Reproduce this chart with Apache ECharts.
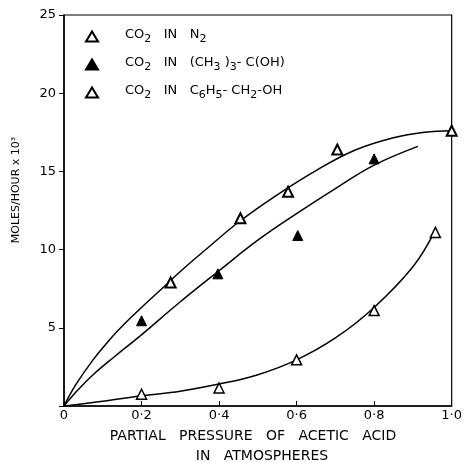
<!DOCTYPE html>
<html>
<head>
<meta charset="utf-8">
<script src="https://cdn.jsdelivr.net/npm/echarts@6/dist/echarts.min.js"></script>
<style>
  html, body { margin: 0; padding: 0; background: #fff; }
  #chart { width: 465px; height: 462px; }
</style>
</head>
<body>
<div id="chart"></div>
<script>
// measured points [partial pressure, moles/hour x 10^3]
var ptsN2 = [[0.275, 7.9], [0.455, 12.0], [0.578, 13.7], [0.705, 16.4], [1.0, 17.6]];
var ptsButanol = [[0.2, 5.45], [0.397, 8.45], [0.603, 10.9], [0.8, 15.8]];
var ptsBenzyl = [[0.2, 0.75], [0.4, 1.15], [0.6, 2.95], [0.8, 6.1], [0.958, 11.1]];

// hand-drawn curves through the points
var curveN2 = [[0, 0], [0.03, 1.35], [0.075, 2.95], [0.12, 4.3], [0.16, 5.35], [0.2, 6.3], [0.246, 7.35],
  [0.3, 8.6], [0.375, 10.2], [0.45, 11.75], [0.55, 13.5], [0.65, 15.05], [0.75, 16.35], [0.85, 17.15],
  [0.93, 17.5], [1.0, 17.6]];
var curveButanol = [[0, 0], [0.035, 1.0], [0.075, 2.0], [0.13, 3.15], [0.195, 4.45], [0.297, 6.6],
  [0.4, 8.65], [0.5, 10.6], [0.6, 12.3], [0.7, 13.9], [0.8, 15.4], [0.913, 16.6]];
var curveBenzyl = [[0, 0], [0.1, 0.3], [0.2, 0.65], [0.3, 0.95], [0.4, 1.4], [0.5, 2.0], [0.6, 2.95],
  [0.7, 4.35], [0.8, 6.3], [0.9, 8.9], [0.955, 11.1]];

var legendNames = ["CO2 IN N2", "CO2 IN (CH3)3-C(OH)", "CO2 IN C6H5-CH2-OH"];
// same labels with subscripts marked for rich text
var legendRich = {
  "CO2 IN N2": "{n|CO}{s|2}{n|   IN   N}{s|2}",
  "CO2 IN (CH3)3-C(OH)": "{n|CO}{s|2}{n|   IN   (CH}{s|3}{n| )}{s|3}{n|- C(OH)}",
  "CO2 IN C6H5-CH2-OH": "{n|CO}{s|2}{n|   IN   C}{s|6}{n|H}{s|5}{n|- CH}{s|2}{n|-OH}"
};

var font = "DejaVu Sans";
var chart = echarts.init(document.getElementById("chart"));

function curve(name, data) {
  return {
    name: name,
    type: "line",
    data: data,
    smooth: 0.4,
    showSymbol: false,
    silent: true,
    lineStyle: { color: "#000", width: 1.5 },
    z: 1
  };
}

chart.setOption({
  backgroundColor: "#fff",
  animation: false,
  grid: {
    left: 64, right: 10, top: 15, bottom: 56,
    show: true, borderColor: "#000", borderWidth: 1.2
  },
  legend: {
    data: legendNames,
    orient: "vertical",
    left: 80,
    top: 23,
    itemWidth: 12,
    itemHeight: 10,
    itemGap: 11,
    selectedMode: false,
    formatter: function (name) { return legendRich[name]; },
    textStyle: {
      color: "#000",
      padding: [0, 0, 0, 22],
      rich: {
        n: { fontFamily: font, fontSize: 13, color: "#000", padding: [0, 0, 4, 0] },
        s: { fontFamily: font, fontSize: 11, color: "#000", padding: [6, 0, 0, 0] }
      }
    }
  },
  xAxis: {
    type: "value",
    min: 0, max: 1, interval: 0.2,
    splitLine: { show: false },
    axisLine: { lineStyle: { color: "#000", width: 1.5 } },
    axisTick: { inside: true, length: 5, lineStyle: { color: "#000" } },
    axisLabel: {
      margin: 3, color: "#000", fontFamily: font, fontSize: 13,
      formatter: function (v) { return v === 0 ? "0" : v.toFixed(1).replace(".", "·"); }
    }
  },
  yAxis: {
    type: "value",
    min: 0, max: 25, interval: 5,
    splitLine: { show: false },
    axisLine: { lineStyle: { color: "#000", width: 1.5 } },
    axisTick: { length: 5, lineStyle: { color: "#000" } },
    axisLabel: {
      margin: 8, color: "#000", fontFamily: font, fontSize: 13,
      formatter: function (v) { return v === 0 ? "" : String(v); }
    }
  },
  graphic: [
    {
      type: "text", x: 16, y: 190, rotation: Math.PI / 2,
      style: { text: "MOLES/HOUR x 10³", fontFamily: font, fontSize: 11, fill: "#000", textAlign: "center", textVerticalAlign: "middle" }
    },
    {
      type: "text", x: 253, y: 436,
      style: { text: "PARTIAL   PRESSURE   OF   ACETIC   ACID", fontFamily: font, fontSize: 14, fill: "#000", textAlign: "center", textVerticalAlign: "middle" }
    },
    {
      type: "text", x: 262, y: 456,
      style: { text: "IN   ATMOSPHERES", fontFamily: font, fontSize: 14, fill: "#000", textAlign: "center", textVerticalAlign: "middle" }
    }
  ],
  series: [
    curve("c1", curveN2),
    curve("c2", curveButanol),
    curve("c3", curveBenzyl),
    {
      name: legendNames[0], type: "scatter", data: ptsN2, symbol: "triangle", symbolSize: 10, z: 3,
      itemStyle: { color: "#fff", borderColor: "#000", borderWidth: 2, opacity: 1 }
    },
    {
      name: legendNames[1], type: "scatter", data: ptsButanol, symbol: "triangle", symbolSize: 10, z: 3,
      itemStyle: { color: "#000", borderColor: "#000", borderWidth: 1, opacity: 1 }
    },
    {
      name: legendNames[2], type: "scatter", data: ptsBenzyl, symbol: "triangle", symbolSize: 10, z: 3,
      itemStyle: { color: "#fff", borderColor: "#000", borderWidth: 1.5, opacity: 1 }
    }
  ]
});
</script>
</body>
</html>
